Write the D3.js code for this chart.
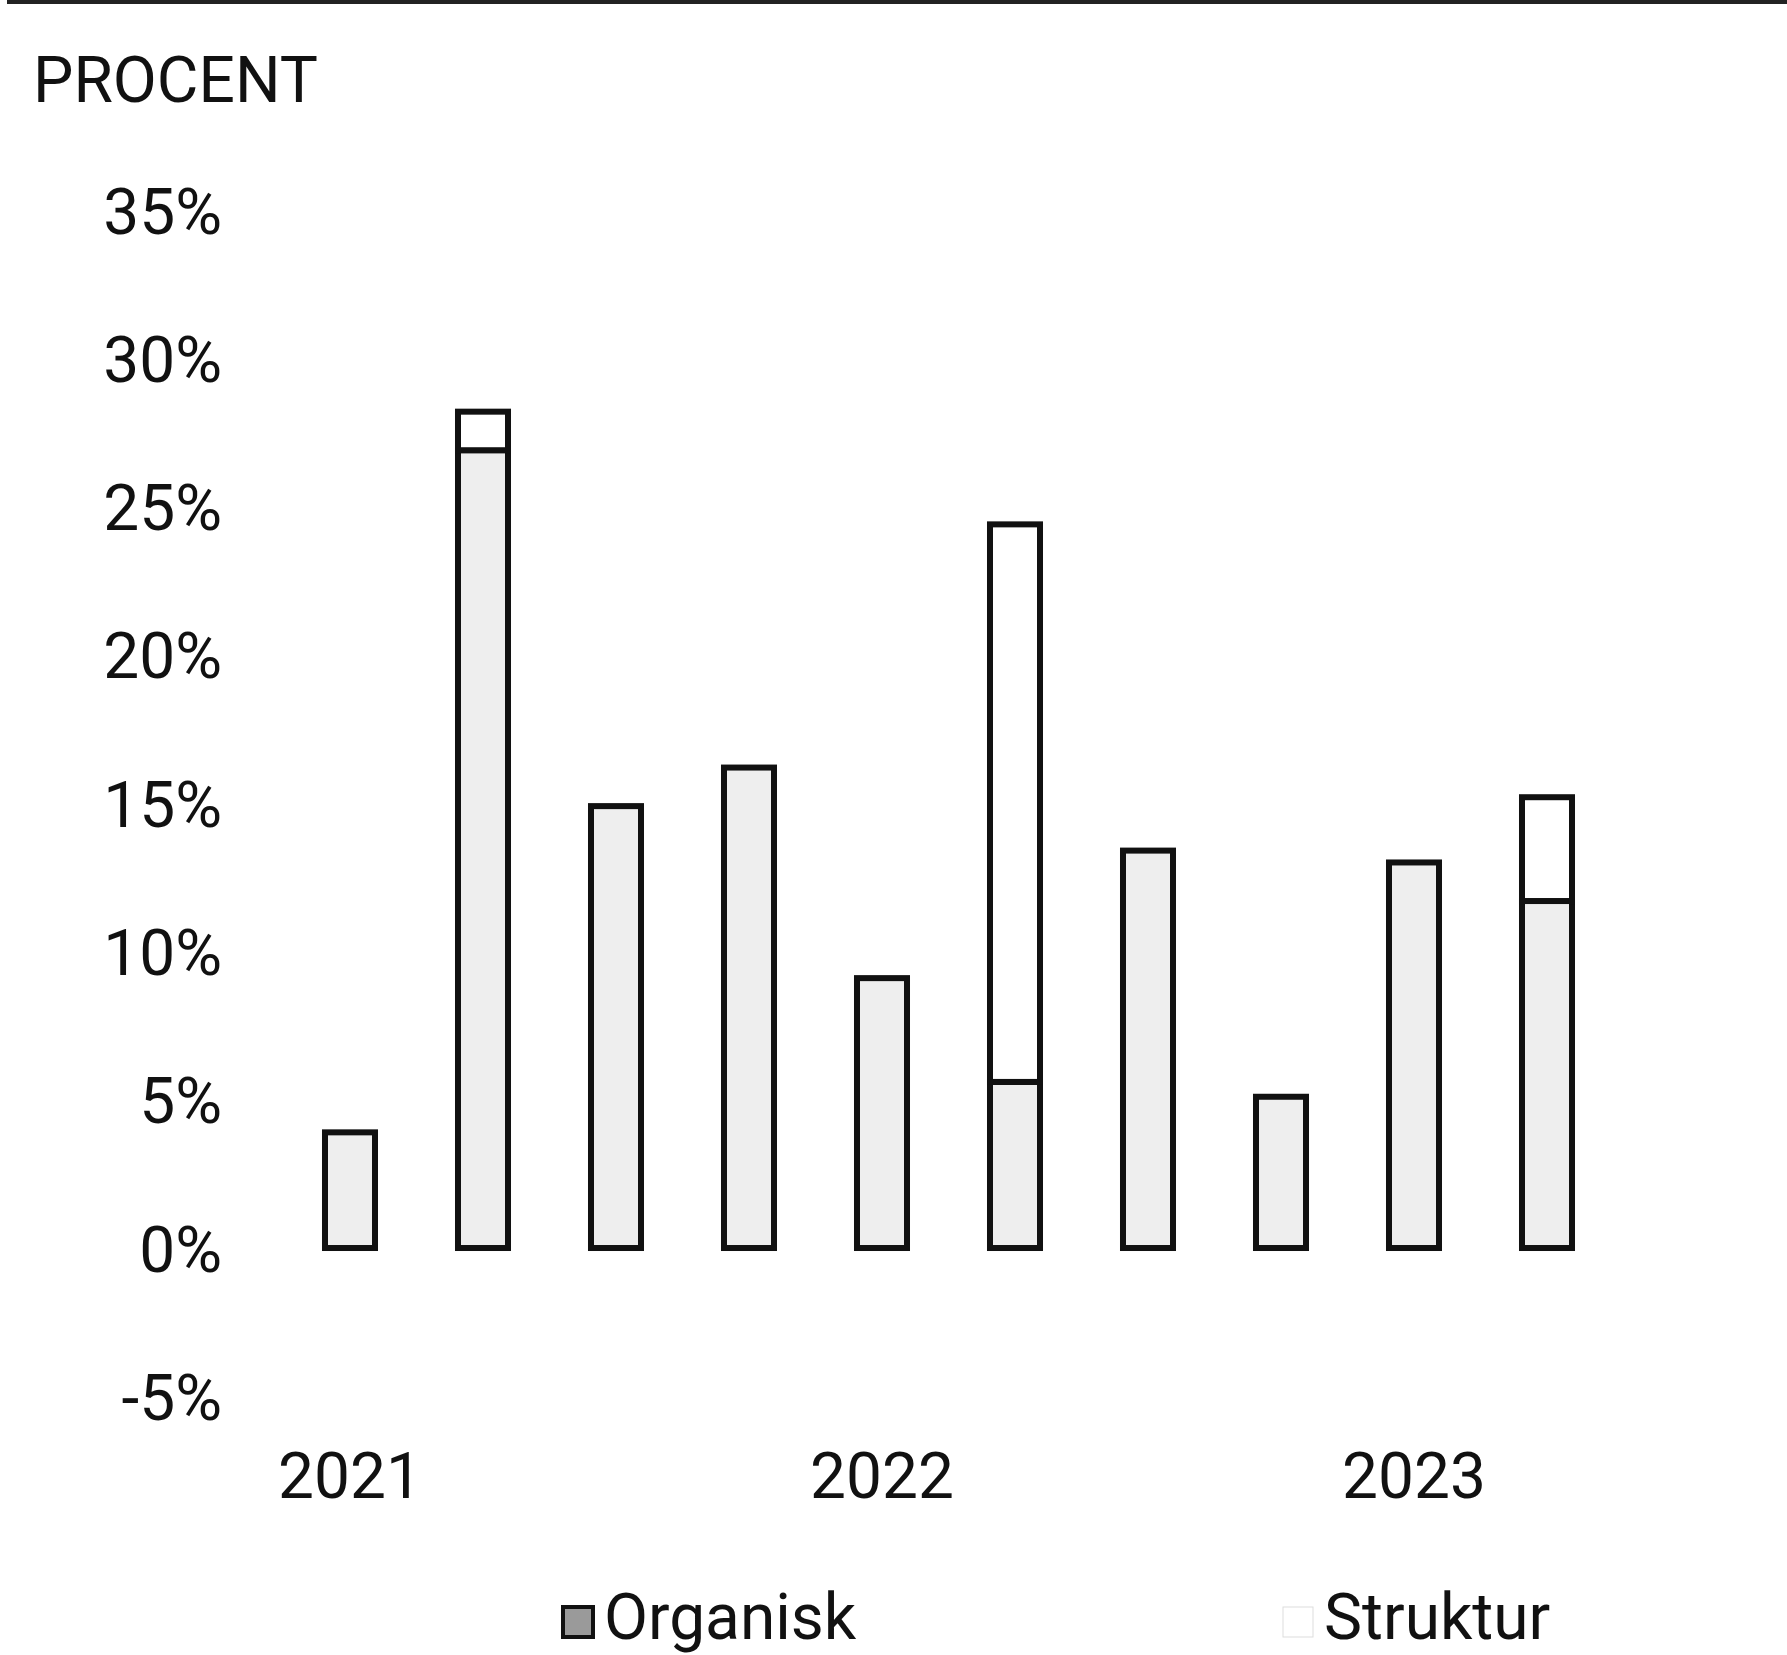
<!DOCTYPE html>
<html>
<head>
<meta charset="utf-8">
<script src="https://cdn.jsdelivr.net/npm/d3@7"></script>
<style>
  html, body { margin: 0; padding: 0; background: #fff; }
  svg { display: block; font-family: Roboto, 'Noto Sans', sans-serif; }
</style>
</head>
<body>
<div id="chart"></div>
<script>
// quarters shown, two series stacked (Organisk at the bottom)
var quarters = ['2021 K1', '2021 K2', '2021 K3', '2021 K4',
  '2022 K1', '2022 K2', '2022 K3', '2022 K4',
  '2023 K1', '2023 K2']
var organisk = [3.9, 26.9, 14.9, 16.2, 9.1, 5.6, 13.4, 5.1, 13.0, 11.7]
var struktur = [0, 1.3, 0, 0, 0, 18.8, 0, 0, 0, 3.5]
var seriesNames = ['Organisk', 'Struktur']
var yTicks = [-5, 0, 5, 10, 15, 20, 25, 30, 35]
var yearLabels = ['2021', '2022', '2023']
var yearFirstQuarter = ['2021 K1', '2022 K1', '2023 K1']

var width = 1787
var height = 1655
var colors = { Organisk: '#eeeeee', Struktur: '#ffffff' }

var svg = d3.select('#chart')
  .append('svg')
  .attr('width', width)
  .attr('height', height)

// thin rule at the very top of the page
svg.append('line')
  .attr('x1', 7).attr('x2', width)
  .attr('y1', 2).attr('y2', 2)
  .attr('stroke', '#222')
  .attr('stroke-width', 4)

svg.append('text')
  .attr('x', 33)
  .attr('y', 102)
  .attr('font-size', 64)
  .attr('fill', '#111')
  .text('PROCENT')

var x = d3.scaleBand()
  .domain(quarters)
  .range([283.5, 283.5 + 133 * quarters.length])
  .paddingInner(0.624)
  .paddingOuter(0.312)

var y = d3.scaleLinear()
  .domain([-5, 35])
  .range([1396.3, 210])

// y axis: labels only
var yAxis = svg.append('g')
  .attr('transform', 'translate(232,0)')
  .call(d3.axisLeft(y).tickValues(yTicks).tickSize(0).tickPadding(10)
    .tickFormat(function (d) { return d + '%' }))
yAxis.select('.domain').remove()
yAxis.selectAll('text')
  .attr('font-size', 64)
  .attr('font-family', 'Roboto, sans-serif')
  .attr('fill', '#111')
  .attr('dy', '0.36em')

// stacked bars
var rows = quarters.map(function (q, i) {
  return { q: q, Organisk: organisk[i], Struktur: struktur[i] }
})
var stacked = d3.stack().keys(seriesNames)(rows)

svg.append('g')
  .selectAll('g')
  .data(stacked)
  .join('g')
  .attr('fill', function (s) { return colors[s.key] })
  .selectAll('rect')
  .data(function (s) { return s.filter(function (d) { return d[1] - d[0] > 0 }) })
  .join('rect')
  .attr('x', function (d) { return x(d.data.q) })
  .attr('width', x.bandwidth())
  .attr('y', function (d) { return y(d[1]) })
  .attr('height', function (d) { return y(d[0]) - y(d[1]) })
  .attr('stroke', '#111')
  .attr('stroke-width', 6)

// year labels under the first quarter of each year
svg.append('g')
  .selectAll('text')
  .data(yearLabels)
  .join('text')
  .attr('x', function (d, i) { return x(yearFirstQuarter[i]) + x.bandwidth() / 2 })
  .attr('y', 1498)
  .attr('text-anchor', 'middle')
  .attr('font-size', 64)
  .attr('fill', '#111')
  .text(function (d) { return d })

// legend
var legendX = { Organisk: 563, Struktur: 1283 }
var legend = svg.append('g')
  .selectAll('g')
  .data(seriesNames)
  .join('g')
  .attr('transform', function (d) { return 'translate(' + legendX[d] + ',1607)' })
legend.append('rect')
  .attr('width', 30)
  .attr('height', 30)
  .attr('fill', function (d) { return d === 'Organisk' ? '#9a9a9a' : '#fff' })
  .attr('stroke', function (d) { return d === 'Organisk' ? '#111' : '#ddd' })
  .attr('stroke-width', function (d) { return d === 'Organisk' ? 4 : 1 })
legend.append('text')
  .attr('x', 41)
  .attr('y', 32)
  .attr('font-size', 64)
  .attr('fill', '#111')
  .text(function (d) { return d })
</script>
</body>
</html>
